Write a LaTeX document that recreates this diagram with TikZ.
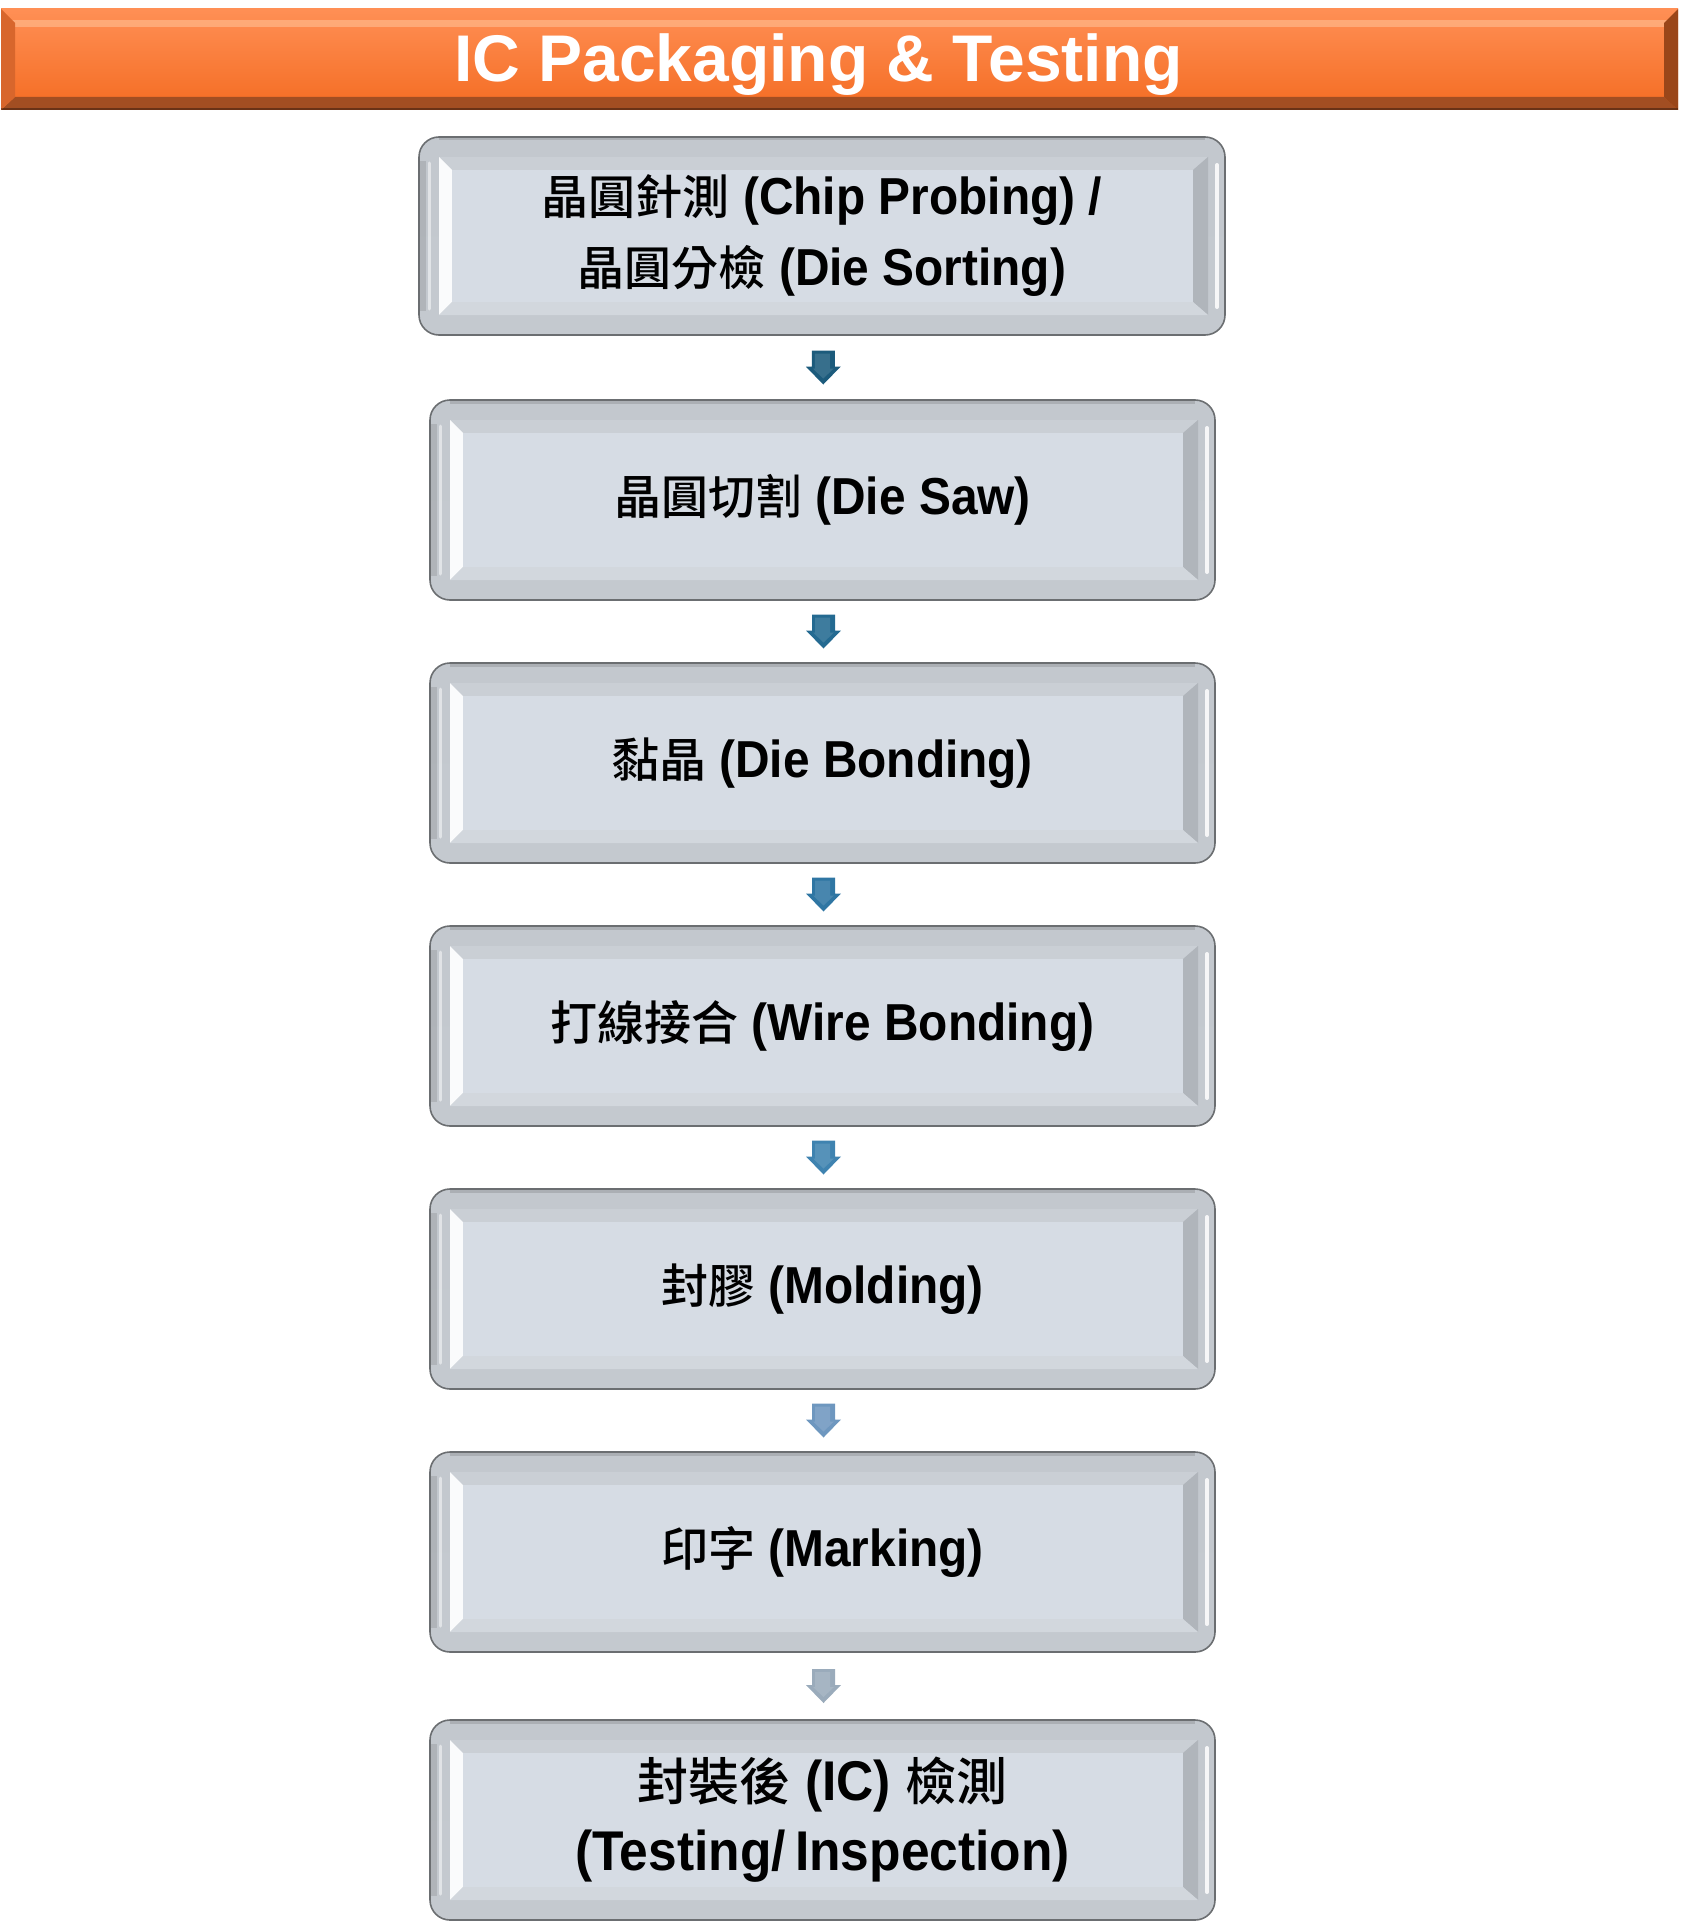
\documentclass[tikz,border=0pt]{standalone}
\usepackage{fontspec}
\setmainfont{Liberation Sans}
\newfontfamily\latinf{Liberation Sans}[FakeStretch=0.92]
\newfontfamily\titlef{Liberation Sans}
\newfontfamily\cjkf{Noto Sans CJK TC Medium}
\newcommand\zh[1]{{\cjkf\mdseries\fontsize{47}{71}\selectfont #1}}
\newcommand\zhb[1]{{\cjkf\mdseries\fontsize{51}{71}\selectfont #1}}
\usetikzlibrary{calc}
\definecolor{boxedge}{HTML}{6B6E71}
\definecolor{bandtop}{HTML}{C3C8CE}
\definecolor{bandmid}{HTML}{D0D5DB}
\definecolor{bandbot}{HTML}{C4C9CF}
\definecolor{bevtop}{HTML}{CACFD5}
\definecolor{bevleft}{HTML}{FAFBFC}
\definecolor{bevright}{HTML}{B0B5BB}
\definecolor{bevbot}{HTML}{D2D7DD}
\definecolor{face}{HTML}{D6DCE4}
\definecolor{orTop}{HTML}{FF8F55}
\definecolor{orMid}{HTML}{FB7B35}
\definecolor{orBot}{HTML}{F46C22}
\definecolor{orLeft}{HTML}{D8662C}
\definecolor{orRight}{HTML}{9A4619}
\definecolor{orBottom}{HTML}{A24E22}
\definecolor{orHi}{HTML}{FFB586}
\definecolor{arA}{HTML}{1C5B7C}
\definecolor{arB}{HTML}{246A91}
\definecolor{arC}{HTML}{2F76A3}
\definecolor{arD}{HTML}{3F83B0}
\definecolor{arE}{HTML}{6E97BF}
\definecolor{arF}{HTML}{9AABBB}
\tikzset{
  stepbox/.style={rounded corners=20pt, draw=boxedge, line width=1.6pt,
    top color=bandtop, middle color=bandmid, bottom color=bandbot,
    minimum width=785pt, minimum height=200pt, inner sep=0pt, align=center,
    font=\latinf\bfseries\fontsize{52}{71}\selectfont, text=black,
    path picture={
      \path (path picture bounding box.north west) coordinate (ppa)
            (path picture bounding box.south east) coordinate (ppb);
      \begin{scope}[sharp corners]
      \fill[bevtop] ($(ppa)+(20,20)$) -- ($(ppb |- ppa)+(-17,20)$) -- ($(ppb |- ppa)+(-32,33)$) -- ($(ppa)+(33,33)$) -- cycle;
      \fill[bevleft] ($(ppa)+(20,20)$) -- ($(ppa)+(33,33)$) -- ($(ppa |- ppb)+(33,-33)$) -- ($(ppa |- ppb)+(20,-20)$) -- cycle;
      \fill[bevright] ($(ppb |- ppa)+(-17,20)$) -- ($(ppb)+(-17,-20)$) -- ($(ppb)+(-32,-33)$) -- ($(ppb |- ppa)+(-32,33)$) -- cycle;
      \fill[bevbot] ($(ppa |- ppb)+(20,-20)$) -- ($(ppb)+(-17,-20)$) -- ($(ppb)+(-32,-33)$) -- ($(ppa |- ppb)+(33,-33)$) -- cycle;
      \fill[face] ($(ppa)+(33,33)$) rectangle ($(ppb)+(-32,-33)$);
      \draw[white, line width=4pt, opacity=.85, line cap=round] ($(ppb |- ppa)+(-8,28)$) -- ($(ppb)+(-8,-28)$);
      \draw[black, line width=6pt, opacity=.10] ($(ppa)+(4,24)$) -- ($(ppa |- ppb)+(4,-24)$);
      \draw[white, line width=3pt, opacity=.5, line cap=round] ($(ppa)+(10,26)$) -- ($(ppa |- ppb)+(10,-26)$);
      \draw[black, line width=3pt, opacity=.12] ($(ppa)+(20,2)$) -- ($(ppb |- ppa)+(-20,2)$);
      \end{scope}
    }},
  titlebar/.style={minimum width=1677pt, minimum height=101pt, inner sep=0pt,
    top color=orTop, middle color=orMid, bottom color=orBot,
    font=\titlef\bfseries\fontsize{66}{70}\selectfont, text=white,
    path picture={
      \path (path picture bounding box.north west) coordinate (tpa)
            (path picture bounding box.south east) coordinate (tpb);
      \draw[orHi, line width=7pt, opacity=.75] ($(tpa)+(10,15)$) -- ($(tpb |- tpa)+(-10,15)$);
      \fill[orBottom] (tpa |- tpb) -- ($(tpa |- tpb)+(14,-13)$) -- ($(tpb)+(-14,-13)$) -- (tpb) -- cycle;
      \fill[orLeft] (tpa) -- ($(tpa)+(14,14)$) -- ($(tpa |- tpb)+(14,-13)$) -- (tpa |- tpb) -- cycle;
      \fill[orRight] (tpb |- tpa) -- ($(tpb |- tpa)+(-14,14)$) -- ($(tpb)+(-14,-13)$) -- (tpb) -- cycle;
      \draw[black, line width=2pt, opacity=.35] ($(tpa |- tpb)+(0,-1)$) -- ($(tpb)+(0,-1)$);
    }},
}
\newcommand\flowarrow[3]{%
  \coordinate (m#1#2) at ($(#1.south)!0.5!(#2.north)+(1,0)$);
  \fill[#3] ($(m#1#2)+(-11.5,-17)$) -- ++(23,0) -- ++(0,16) -- ++(6,0) -- ($(m#1#2)+(0,17)$) -- ($(m#1#2)+(-17.5,-1)$) -- ++(6,0) -- cycle;
  \fill[#3!88!white] ($(m#1#2)+(-8.5,-14)$) -- ++(15,0) -- ++(0,15) -- ++(4,0) -- ($(m#1#2)+(0,11)$) -- ($(m#1#2)+(-10.5,1)$) -- ++(2,0) -- cycle;
}
\begin{document}
\begin{tikzpicture}[x=1pt, y=-1pt]
\useasboundingbox (0,0) rectangle (1684,1921);
\node[titlebar] (title) at (839.5,59.5) {\raisebox{-22pt}[0pt][0pt]{IC Packaging \& Testing}\hspace*{42pt}};
\node[stepbox, minimum width=806pt, minimum height=198pt] (b1) at (822,236) {\zh{晶圓針測} (Chip Probing) /\\\zh{晶圓分檢} (Die Sorting)};
\node[stepbox] (b2) at (822.5,500) {\zh{晶圓切割} (Die Saw)};
\node[stepbox] (b3) at (822.5,763) {\zh{黏晶} (Die Bonding)};
\node[stepbox] (b4) at (822.5,1026) {\zh{打線接合} (Wire Bonding)};
\node[stepbox] (b5) at (822.5,1289) {\zh{封膠} (Molding)};
\node[stepbox] (b6) at (822.5,1552) {\zh{印字} (Marking)};
\node[stepbox, font=\latinf\bfseries\fontsize{56}{70}\selectfont] (b7) at (822.5,1820) {\zhb{封裝後} (IC) \zhb{檢測}\\(Testing/\,Inspection)};
\flowarrow{b1}{b2}{arA}
\flowarrow{b2}{b3}{arB}
\flowarrow{b3}{b4}{arC}
\flowarrow{b4}{b5}{arD}
\flowarrow{b5}{b6}{arE}
\flowarrow{b6}{b7}{arF}
\end{tikzpicture}
\end{document}
